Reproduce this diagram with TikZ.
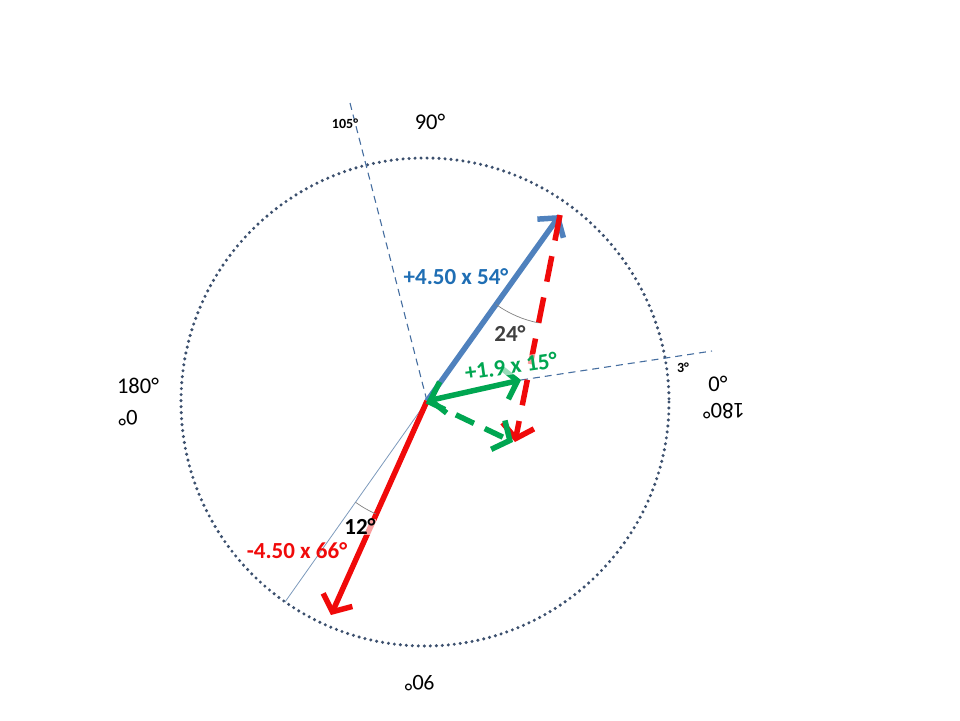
\documentclass[tikz,border=0pt]{standalone}
\usepackage{fontspec}
\setmainfont{Carlito}
\usetikzlibrary{arrows.meta}
\definecolor{vecblue}{RGB}{79,129,189}
\definecolor{labblue}{RGB}{31,110,180}
\definecolor{vecred}{RGB}{240,10,10}
\definecolor{vecgreen}{RGB}{0,166,81}
\definecolor{ringcol}{RGB}{60,80,110}
\definecolor{guidecol}{RGB}{70,110,160}
\tikzset{
  vec/.style={line width=5.5pt, -{Straight Barb[length=13pt, width=32pt]}},
  guide/.style={guidecol, line width=1.1pt, dash pattern=on 7pt off 5pt},
  angarc/.style={gray, line width=0.7pt},
  deg/.style={font=\fontsize{22.5}{22.5}\selectfont, inner sep=0pt},
  small/.style={font=\fontsize{14}{14}\selectfont\bfseries, inner sep=0pt},
  lab/.style={font=\fontsize{23}{23}\selectfont\bfseries, inner sep=0.5pt},
  veil/.style={fill=white, fill opacity=0.6, text opacity=1}
}
\begin{document}
\begin{tikzpicture}[x=1pt, y=-1pt]
			%%%%% START %%%%%
			\useasboundingbox (0, 0) rectangle (960, 720);
			
			\coordinate (O) at (427, 401);
			\coordinate (B) at (560, 215);
			\coordinate (D) at (515, 442);
			\coordinate (R) at (331, 615);
			\coordinate (G) at (521, 380);
			\coordinate (E) at (513, 442);
			\coordinate (P) at (285, 602);
			\coordinate (T) at (350, 103);
			\coordinate (S) at (712, 351);
			
			\draw[ringcol, line width=3.4pt, line cap=round, dash pattern=on 0pt off 6pt] (425, 402) circle (244);
			
			\draw[guide] (T) -- (O);
			\draw[guide] (G) -- (S);
			\draw[guidecol!70, line width=0.8pt] (P) -- (O);
			
			\draw[vec, vecblue] (O) -- (B);
			\draw[vec, vecred, dash pattern=on 26pt off 16pt] (B) -- (D);
			\draw[vec, vecred] (O) -- (R);
			\draw[vec, vecgreen, {Straight Barb[length=13pt, width=32pt]}-{Straight Barb[length=13pt, width=32pt]}] (O) -- (G);
			\draw[vec, vecgreen, dash pattern=on 20pt off 12pt] (O) -- (E);
			
			\draw[angarc] (O) ++(125.2:124) arc (125.2:114.3:124);
			\draw[angarc] (B) ++(125.6:110) arc (125.6:101.2:110);
			
			\node[small] (a105) at (345, 124) {105°};
			\node[deg] (top90) at (430, 122) {90°};
			\node[deg] (left180) at (138, 386) {180°};
			\node[deg, rotate=180] (left0) at (128, 418) {0°};
			\node[deg] (right0) at (718, 384) {0°};
			\node[deg, rotate=180] (right180) at (724, 411) {180°};
			\node[deg, rotate=180] (bot90) at (420, 683) {90°};
			\node[small] (a3) at (683, 368) {3°};
			
			\node[lab, text=labblue] (blueLab) at (456, 277) {+4.50 x 54°};
			\node[lab, veil, text=black!75] (a24) at (510, 334) {24°};
			\node[lab, veil, text=vecgreen, rotate=8] (greenLab) at (511, 366) {+1.9 x 15°};
			\node[lab, veil, text=black] (a12) at (360, 527) {12°};
			\node[lab, text=vecred] (redLab) at (297, 551) {-4.50 x 66°};
			%%%%% END %%%%%
\end{tikzpicture}
\end{document}
